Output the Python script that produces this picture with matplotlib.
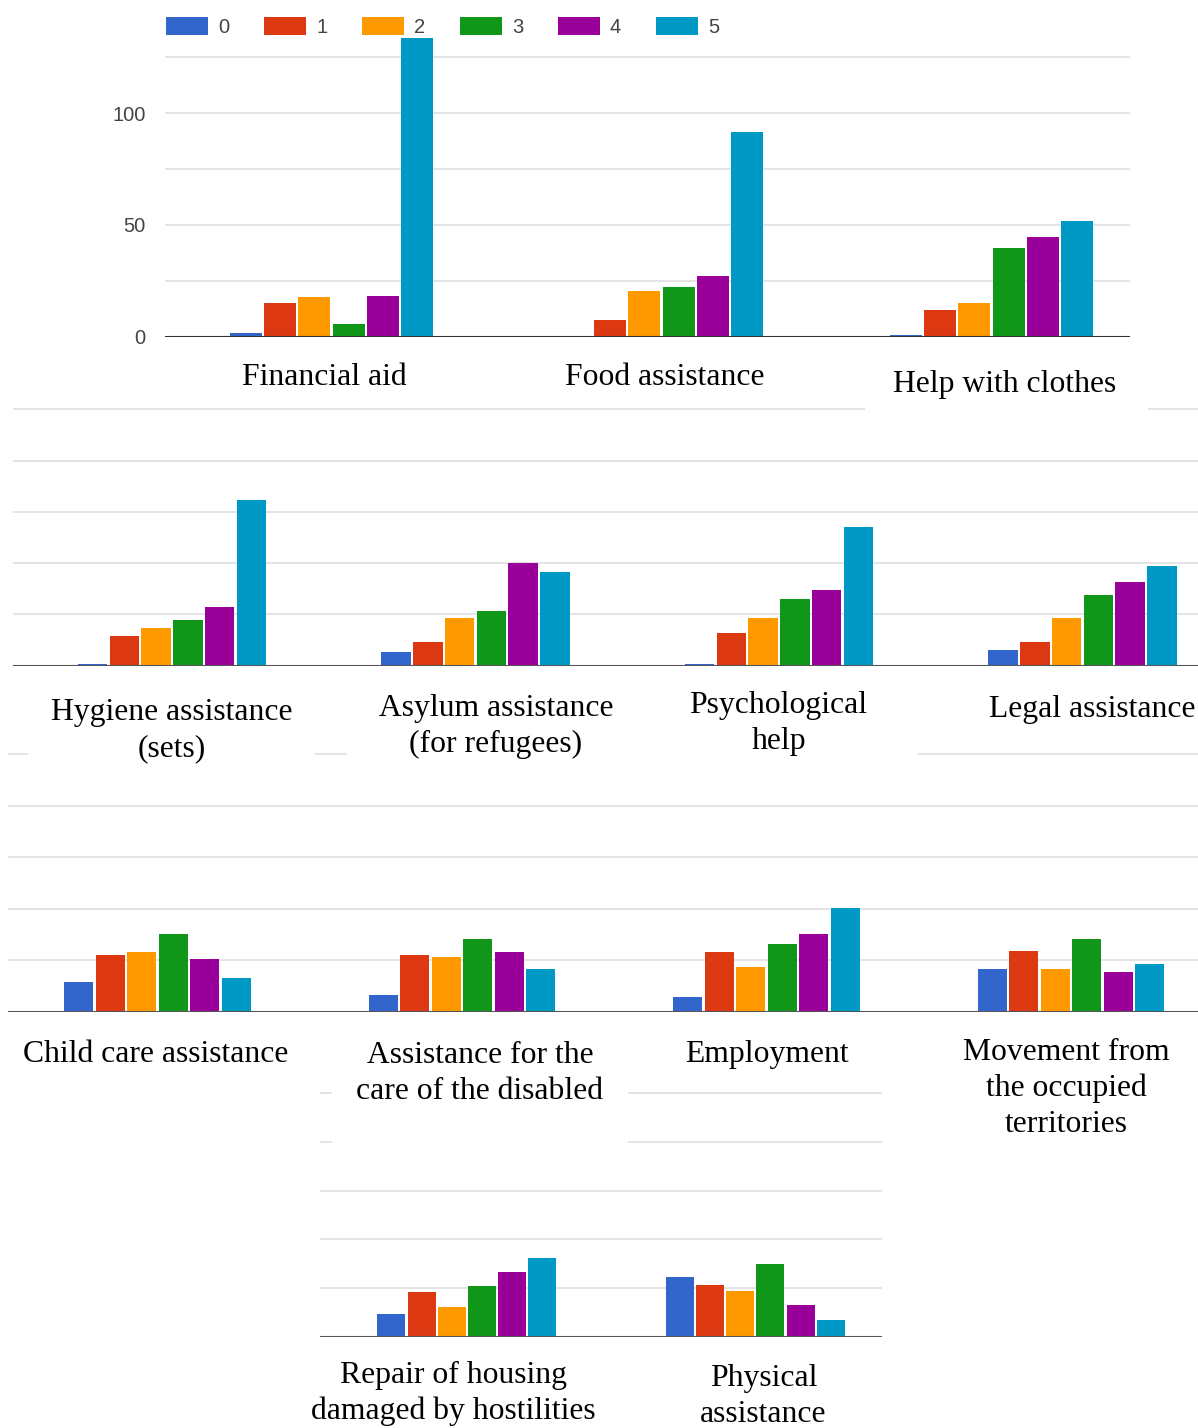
import matplotlib
matplotlib.use("Agg")
import matplotlib.pyplot as plt
from matplotlib.patches import Rectangle, Patch
import numpy as np

# ---- data -------------------------------------------------------------
CATEGORIES = [
    "Financial aid",
    "Food assistance",
    "Help with clothes",
    "Hygiene assistance\n(sets)",
    "Asylum assistance\n(for refugees)",
    "Psychological\nhelp",
    "Legal assistance",
    "Child care assistance",
    "Assistance for the\ncare of the disabled",
    "Employment",
    "Movement from\nthe occupied\nterritories",
    "Repair of housing\ndamaged by hostilities",
    "Physical\nassistance",
]
LEVELS = ["0", "1", "2", "3", "4", "5"]

# number of answers per rating level, one value per category (order as CATEGORIES)
RATING_0 = [1.5, 0.5, 0.7, 0.8, 6.5, 0.8, 7.5, 14.6, 8.1, 7.3, 20.9, 11.5, 30.7]
RATING_1 = [15.2, 7.3, 12.0, 14.5, 11.4, 16.1, 11.4, 27.4, 27.4, 28.8, 29.6, 22.8, 26.7]
RATING_2 = [17.6, 20.6, 15.1, 18.4, 23.3, 23.3, 23.3, 28.8, 26.4, 21.7, 20.9, 15.4, 23.5]
RATING_3 = [5.5, 22.3, 39.8, 22.4, 26.5, 32.7, 34.5, 37.6, 35.1, 32.9, 35.1, 25.9, 37.2]
RATING_4 = [18.4, 27.1, 44.5, 28.8, 50.2, 36.8, 40.7, 25.6, 28.8, 37.6, 19.3, 33.1, 16.4]
RATING_5 = [133.6, 91.5, 51.7, 80.7, 45.5, 67.8, 48.8, 16.2, 20.9, 50.3, 23.3, 40.3, 8.4]
SERIES = [RATING_0, RATING_1, RATING_2, RATING_3, RATING_4, RATING_5]

COLORS = ["#3366cc", "#dc3912", "#ff9900", "#109618", "#990099", "#0099c6"]

# ---- layout (pixels) --------------------------------------------------
W, H = 1198, 1428
fig = plt.figure(figsize=(W / 100, H / 100), dpi=100)
fig.patch.set_facecolor("white")


def fx(px):
    return px / W


def fy(py):
    return 1 - py / H


ROWS = [
    dict(cats=[0, 1, 2], left=165, right=1130, base=336.7, grid=55.85, ymax=135,
         c0=331.5, pitch=330.0, bar=34.3, ticks=True, axis_color="#333333"),
    dict(cats=[3, 4, 5, 6], left=13, right=1198, base=665.7, grid=51.3, ymax=127,
         c0=172.0, pitch=303.5, bar=31.8, ticks=False, axis_color="#555555"),
    dict(cats=[7, 8, 9, 10], left=8, right=1198, base=1011.7, grid=51.5, ymax=127,
         c0=157.4, pitch=304.5, bar=31.5, ticks=False, axis_color="#555555"),
    dict(cats=[11, 12], left=320, right=882, base=1336.7, grid=48.7, ymax=127,
         c0=466.7, pitch=288.7, bar=30.1, ticks=False, axis_color="#555555"),
]

# category label anchors: centre x, baseline of first line
LABEL_POS = [
    (324.5, 385.0), (664.5, 385.0), (1005.0, 391.7),
    (172.0, 720.0), (496.0, 716.0), (778.5, 713.3), (1092.0, 717.3),
    (156.0, 1061.7), (480.0, 1063.3), (766.5, 1061.7), (1066.4, 1060.0),
    (453.0, 1383.0), (763.6, 1386.0),
]
LINE_STEP = 36.0

# white cut-outs behind labels (x0, x1, y0, y1)
COVERS = [
    (865, 1148, 345, 414),
    (28, 315, 670, 770),
    (347, 918, 670, 770),
    (332, 628, 1025, 1160),
]

SANS = ["Liberation Sans", "DejaVu Sans"]
SERIF = ["Liberation Serif", "DejaVu Serif"]

for row in ROWS:
    scale = row["grid"] / 25.0
    top = row["base"] - row["ymax"] * scale
    ax = fig.add_axes([fx(row["left"]), fy(row["base"]),
                       fx(row["right"]) - fx(row["left"]),
                       (row["base"] - top) / H])
    ax.set_facecolor("none")
    ax.set_xlim((row["left"] - row["c0"]) / row["pitch"],
                (row["right"] - row["c0"]) / row["pitch"])
    ax.set_ylim(0, row["ymax"])

    step = row["bar"] / row["pitch"]
    x = np.arange(len(row["cats"]))
    for j, series in enumerate(SERIES):
        vals = [series[c] for c in row["cats"]]
        ax.bar(x + (j - 2.5) * step, vals, width=step * 0.93,
               color=COLORS[j], linewidth=0, zorder=2)

    yt = np.arange(0, row["ymax"], 25)
    ax.set_yticks(yt)
    ax.grid(axis="y", color="#dcdcdc", linewidth=1.1, zorder=0)
    ax.set_axisbelow(True)
    ax.axhline(0, color=row["axis_color"], linewidth=1.5, zorder=3)
    ax.set_xticks([])
    for s in ax.spines.values():
        s.set_visible(False)
    if row["ticks"]:
        ax.set_yticklabels([str(int(v)) if v % 50 == 0 else "" for v in yt],
                           family=SANS, fontsize=14.5, color="#444444")
        ax.tick_params(axis="y", length=0, pad=14)
    else:
        ax.tick_params(axis="y", length=0, labelleft=False)

for (x0, x1, y0, y1) in COVERS:
    fig.add_artist(Rectangle((fx(x0), fy(y1)), (x1 - x0) / W, (y1 - y0) / H,
                             transform=fig.transFigure, facecolor="white",
                             edgecolor="none", zorder=4))

for name, (cx, by) in zip(CATEGORIES, LABEL_POS):
    for k, line in enumerate(name.split("\n")):
        fig.text(fx(cx), fy(by + k * LINE_STEP), line, ha="center", va="baseline",
                 family=SERIF, fontsize=22.8, color="black", zorder=5)

handles = [Patch(facecolor=c, edgecolor="none") for c in COLORS]
leg = fig.legend(handles, LEVELS, loc="center left",
                 bbox_to_anchor=(fx(166), fy(27)), ncol=6, frameon=False,
                 prop={"family": SANS, "size": 14.5}, labelcolor="#444444",
                 handlelength=2.09, handleheight=1.0, handletextpad=0.5,
                 columnspacing=1.72, borderpad=0, borderaxespad=0)
leg.set_zorder(6)

fig.savefig("out.png", dpi=100, facecolor="white")
